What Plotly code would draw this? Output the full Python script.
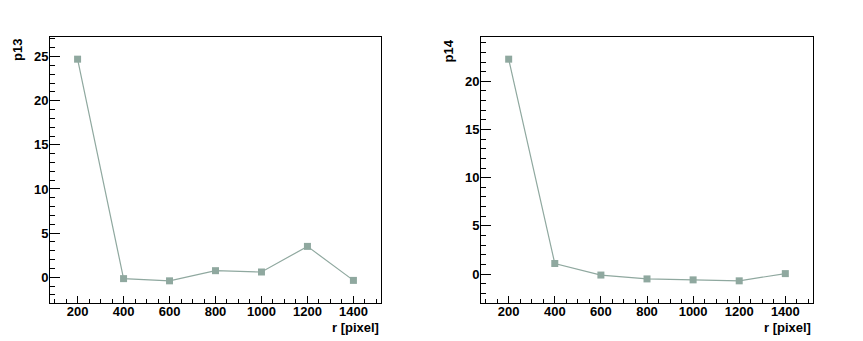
import plotly.graph_objects as go
from plotly.subplots import make_subplots

r_pixel = [200, 400, 600, 800, 1000, 1200, 1400]
p13 = [24.7, -0.15, -0.4, 0.75, 0.6, 3.5, -0.35]
p14 = [22.3, 1.1, -0.1, -0.5, -0.6, -0.7, 0.05]

# page body has an 8px margin, so the figure is shifted by that amount
OFF = 8
W, H = 863 - 2 * OFF, 341 - OFF
COLOR = "#8fa89f"
FONT = dict(family="Liberation Sans, Arial, sans-serif", size=13, color="black", weight="bold")

fig = make_subplots(rows=1, cols=2)

for col, vals in enumerate([p13, p14], start=1):
    fig.add_trace(go.Scatter(
        x=r_pixel, y=vals, mode="lines+markers",
        line=dict(color=COLOR, width=1.2),
        marker=dict(symbol="square", size=7, color=COLOR),
        showlegend=False,
    ), row=1, col=col)

def yrange(v):
    span = max(v) - min(v)
    return [min(v) - 0.1 * span, max(v) + 0.1 * span]

axis_common = dict(
    showline=True, linecolor="black", linewidth=1, mirror=True,
    showgrid=False, zeroline=False, ticks="inside", tickcolor="black",
    tickfont=FONT,
)

panels = [(50 - OFF, 381 - OFF), (481 - OFF, 813 - OFF)]
y_top, y_bot = 37 - OFF, 303 - OFF
for i, ((x0, x1), vals) in enumerate(zip(panels, [p13, p14]), start=1):
    fig.update_xaxes(
        domain=[x0 / W, x1 / W], range=[80, 1520], dtick=200, tick0=0,
        ticklen=7, ticklabelstandoff=-4,
        minor=dict(dtick=50, ticklen=4, ticks="inside", tickcolor="black"),
        **axis_common, row=1, col=i)
    fig.update_yaxes(
        domain=[1 - y_bot / H, 1 - y_top / H], range=yrange(vals), dtick=5, tick0=0,
        ticklen=10, ticklabelstandoff=-2,
        minor=dict(dtick=1, ticklen=5, ticks="inside", tickcolor="black"),
        **axis_common, row=1, col=i)

annotations = []
for (x0, x1), name in zip(panels, ["p13", "p14"]):
    annotations.append(dict(
        text=name, x=(x0 - 33) / W, y=1 - y_top / H, xref="paper", yref="paper",
        textangle=-90, xanchor="center", yanchor="top", showarrow=False,
        font=dict(FONT, size=13)))
    annotations.append(dict(
        text="r [pixel]", x=x1 / W, y=1 - (318 - OFF) / H, xref="paper", yref="paper",
        xanchor="right", yanchor="top", showarrow=False,
        font=dict(FONT, size=13)))

fig.update_layout(
    width=W, height=H, margin=dict(l=0, r=0, t=0, b=0),
    paper_bgcolor="white", plot_bgcolor="white",
    annotations=annotations,
)

fig.write_html("out.html")
